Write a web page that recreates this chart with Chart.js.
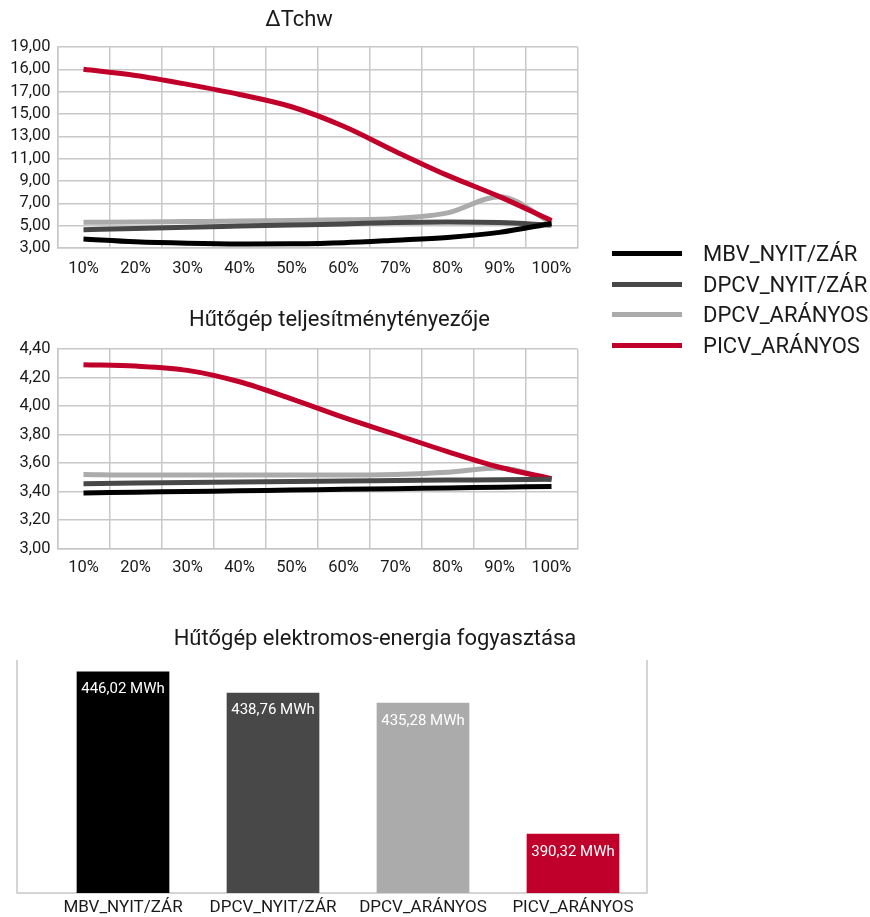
<!DOCTYPE html>
<html>
<head>
<meta charset="utf-8">
<title>Hűtőgép összehasonlítás</title>
<script src="https://cdn.jsdelivr.net/npm/chart.js"></script>
<style>
  html, body { margin: 0; padding: 0; background: #ffffff; }
  body { width: 870px; height: 917px; position: relative; overflow: hidden; font-family: Roboto, sans-serif; }
  .box { position: absolute; }
  #legend { position: absolute; left: 612px; top: 238px; }
  .row { position: relative; height: 30.7px; }
  .row span.ln { position: absolute; left: 0; top: 13px; width: 70px; height: 5px; }
  .row span.tx { position: absolute; left: 91px; top: 1px; font-size: 22px; line-height: 30px; color: #1a1a1a; white-space: nowrap; }
</style>
</head>
<body>
<div class="box" style="left:0;top:0"><canvas id="tchw" width="598" height="288"></canvas></div>
<div class="box" style="left:0;top:300px"><canvas id="cop" width="679" height="290"></canvas></div>
<div class="box" style="left:0;top:610px"><canvas id="energy" width="750" height="307"></canvas></div>
<div id="legend"></div>

<script>
// --- data ---
const loadLabels = ['10%', '20%', '30%', '40%', '50%', '60%', '70%', '80%', '90%', '100%'];
const seriesNames = ['MBV_NYIT/ZÁR', 'DPCV_NYIT/ZÁR', 'DPCV_ARÁNYOS', 'PICV_ARÁNYOS'];
const seriesColors = ['#000000', '#484848', '#ababab', '#c0002a'];

// ΔTchw (the axis labels of the original are kept as printed, incl. "16,00")
const tchwTickLabels = ['3,00', '5,00', '7,00', '9,00', '11,00', '13,00', '15,00', '17,00', '16,00', '19,00'];
const tchwMBV       = [3.80, 3.55, 3.42, 3.36, 3.38, 3.48, 3.70, 3.95, 4.40, 5.20];
const tchwDPCVNyit  = [4.63, 4.75, 4.86, 4.96, 5.06, 5.16, 5.28, 5.33, 5.28, 5.05];
const tchwDPCVAr    = [5.30, 5.33, 5.37, 5.41, 5.46, 5.52, 5.65, 6.15, 7.60, 5.25];
const tchwPICV      = [19.00, 18.45, 17.65, 16.75, 15.65, 13.90, 11.65, 9.50, 7.60, 5.45];

// Hűtőgép teljesítménytényezője
const copMBV        = [3.390, 3.395, 3.400, 3.405, 3.410, 3.415, 3.420, 3.425, 3.430, 3.435];
const copDPCVNyit   = [3.455, 3.460, 3.463, 3.467, 3.470, 3.474, 3.477, 3.480, 3.483, 3.486];
const copDPCVAr     = [3.520, 3.515, 3.515, 3.515, 3.515, 3.515, 3.520, 3.535, 3.565, 3.480];
const copPICV       = [4.29, 4.28, 4.25, 4.17, 4.05, 3.92, 3.80, 3.68, 3.57, 3.49];

// Hűtőgép elektromos-energia fogyasztása (MWh)
const energyValues = [446.02, 438.76, 435.28, 390.32];
const energyUnit = 'MWh';

// --- common ---
Chart.defaults.font.family = 'Roboto';
Chart.defaults.color = '#1a1a1a';
Chart.defaults.animation = false;

const gridColor = '#c8c8c8';
const fmt = v => Number(v).toFixed(2).replace('.', ',');
const drawOrder = [1, 2, 4, 3]; // red above light grey

function lineDatasets(series) {
  return series.map((data, i) => ({
    label: seriesNames[i],
    data: data,
    borderColor: seriesColors[i],
    backgroundColor: seriesColors[i],
    borderWidth: 5,
    pointRadius: 0,
    cubicInterpolationMode: 'monotone',
    order: drawOrder[i]
  }));
}

function spacer(w) {
  return {
    type: 'linear', position: 'right', display: true,
    ticks: { display: false }, grid: { display: false }, border: { display: false },
    afterFit: s => { s.width = w; }
  };
}

function lineOptions(title, titlePad, yOpts, rightSpace, xHeight, xPad) {
  return {
    responsive: false,
    layout: { padding: 0 },
    plugins: {
      legend: { display: false },
      tooltip: { enabled: false },
      title: { display: true, text: title, font: { size: 22, weight: 'normal' }, color: '#1a1a1a', padding: titlePad }
    },
    scales: {
      x: {
        type: 'category', offset: true,
        grid: { color: gridColor, lineWidth: 1.5, offset: true, drawTicks: false },
        border: { color: gridColor, width: 1.5 },
        ticks: { font: { size: 16.5 }, padding: xPad, maxRotation: 0, autoSkip: false },
        afterFit: s => { s.height = xHeight; }
      },
      y: Object.assign({
        grid: { color: gridColor, lineWidth: 1.5, drawTicks: false },
        border: { color: gridColor, width: 1.5 },
        afterFit: s => { s.width = 57.5; }
      }, yOpts),
      yr: spacer(rightSpace)
    }
  };
}

new Chart(document.getElementById('tchw'), {
  type: 'line',
  data: { labels: loadLabels, datasets: lineDatasets([tchwMBV, tchwDPCVNyit, tchwDPCVAr, tchwPICV]) },
  options: lineOptions('ΔTchw', { top: 6.8, bottom: 13.8 }, {
    min: 3, max: 21,
    ticks: { stepSize: 2, autoSkip: false, padding: 7, font: { size: 16.5 }, callback: (v, i) => tchwTickLabels[i] }
  }, 20.5, 40, 11)
});

new Chart(document.getElementById('cop'), {
  type: 'line',
  data: { labels: loadLabels, datasets: lineDatasets([copMBV, copDPCVNyit, copDPCVAr, copPICV]) },
  options: lineOptions('Hűtőgép teljesítménytényezője', { top: 6.8, bottom: 15.8 }, {
    min: 3, max: 4.4,
    ticks: { stepSize: 0.2, autoSkip: false, padding: 7, font: { size: 16.5 }, callback: v => fmt(v) }
  }, 101.5, 41.5, 9.6)
});

// bar chart helpers
const barFrame = {
  id: 'barFrame',
  beforeDatasetsDraw(chart) {
    const { ctx, chartArea: a } = chart;
    ctx.save();
    ctx.strokeStyle = gridColor;
    ctx.lineWidth = 1.5;
    ctx.beginPath();
    ctx.moveTo(17, a.top);
    ctx.lineTo(17, a.bottom);
    ctx.lineTo(a.right - 1, a.bottom);
    ctx.lineTo(a.right - 1, a.top);
    ctx.stroke();
    ctx.restore();
  }
};

const barLabels = {
  id: 'barLabels',
  afterDatasetsDraw(chart) {
    const ctx = chart.ctx;
    const meta = chart.getDatasetMeta(0);
    ctx.save();
    ctx.font = '15px Roboto';
    ctx.fillStyle = '#ffffff';
    ctx.textAlign = 'center';
    ctx.textBaseline = 'middle';
    meta.data.forEach((bar, i) => {
      ctx.fillText(fmt(energyValues[i]) + ' ' + energyUnit, bar.x, bar.y + 18);
    });
    ctx.restore();
  }
};

new Chart(document.getElementById('energy'), {
  type: 'bar',
  data: {
    labels: seriesNames,
    datasets: [{
      data: energyValues,
      backgroundColor: seriesColors,
      barPercentage: 0.618,
      categoryPercentage: 1
    }]
  },
  options: {
    responsive: false,
    layout: { padding: 0 },
    plugins: {
      legend: { display: false },
      tooltip: { enabled: false },
      title: { display: true, text: 'Hűtőgép elektromos-energia fogyasztása', font: { size: 22, weight: 'normal' }, color: '#1a1a1a', padding: { top: 16.1, bottom: 7.5 } }
    },
    scales: {
      x: {
        grid: { display: false, drawTicks: false }, border: { display: false },
        ticks: { font: { size: 17 }, padding: 4.8, maxRotation: 0, autoSkip: false },
        afterFit: s => { s.height = 24; }
      },
      y: {
        min: 370, max: 450,
        ticks: { display: false }, grid: { display: false }, border: { display: false },
        afterFit: s => { s.width = 48; }
      },
      yr: spacer(102)
    }
  },
  plugins: [barFrame, barLabels]
});

// legend
const legend = document.getElementById('legend');
seriesNames.forEach((name, i) => {
  const row = document.createElement('div');
  row.className = 'row';
  const ln = document.createElement('span');
  ln.className = 'ln';
  ln.style.background = seriesColors[i];
  const tx = document.createElement('span');
  tx.className = 'tx';
  tx.textContent = name;
  row.appendChild(ln);
  row.appendChild(tx);
  legend.appendChild(row);
});
</script>
</body>
</html>
